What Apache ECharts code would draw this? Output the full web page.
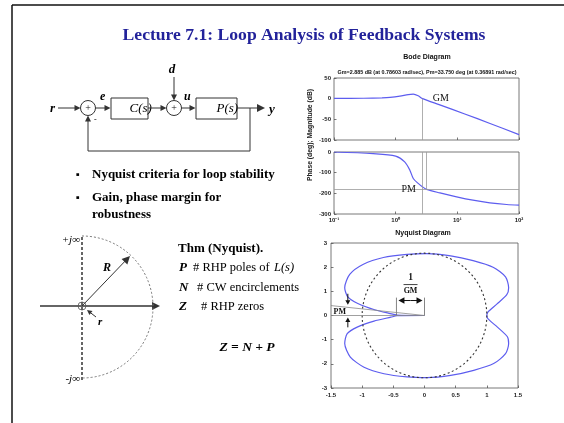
<!DOCTYPE html>
<html>
<head>
<meta charset="utf-8">
<script src="https://cdn.jsdelivr.net/npm/echarts@6/dist/echarts.min.js"></script>
<style>
html,body{margin:0;padding:0;background:#fff;}
#main{width:564px;height:423px;}
</style>
</head>
<body>
<div id="main"></div>
<script>
// ---- Bode magnitude (frequency in rad/s, magnitude in dB) ----
const magFreq = [0.1, 0.3, 0.6, 0.81, 1.17, 1.6, 1.93, 2.32, 2.74, 5.2, 13.2, 33.9, 100];
const magDb   = [0.5, 1, 2, 3, 6, 10, 11, 7, 0, -15, -37, -60, -87];

// ---- Bode phase (frequency in rad/s, phase in degrees) ----
const phaseFreq = [0.1, 0.43, 1.0, 1.4, 1.7, 1.93, 2.32, 2.74, 3.18, 5.22, 9.75, 17.9, 33.7, 63, 100];
const phaseDeg  = [0, -8, -20, -48, -88, -128, -152, -169, -181, -198, -217, -233, -246, -254, -257];

// ---- Nyquist curve (real, imaginary) ----
const nyqRe = [0, -0.44, -0.55, -0.8, -1.07, -1.23, -1.28, -1.2, -0.98, -0.66, -0.28, 0.04, 0.42, 0.78, 1.1, 1.3, 1.35, 1.32, 1.16, 1.02, 1.0,
               1.02, 1.17, 1.33, 1.35, 1.3, 1.11, 0.79, 0.42, 0.04, -0.28, -0.65, -0.97, -1.19, -1.28, -1.24, -1.08, -0.81, -0.54, -0.44, 0];
const nyqIm = [0, 0.02, 0.08, 0.24, 0.5, 0.77, 1.15, 1.7, 2.12, 2.4, 2.53, 2.56, 2.47, 2.27, 2.0, 1.6, 1.15, 0.86, 0.47, 0.15, 0,
               -0.14, -0.48, -0.88, -1.16, -1.58, -1.99, -2.27, -2.48, -2.57, -2.54, -2.41, -2.14, -1.72, -1.16, -0.75, -0.48, -0.23, -0.07, -0.01, 0];

// ---- margins ----
const gainCrossFreq = 2.74;   // |L| = 0 dB
const phaseCrossFreq = 3.18;  // angle L = -180 deg
const phaseCrossLevel = -180;
const invGm = -0.45;          // real-axis crossing, -1/GM

// ---- tick labels ----
const freqTickLabels = ['10\u207B\u00B9', '10\u2070', '10\u00B9', '10\u00B2'];

const BLUE = '#5d5def';
const SERIF = '"Liberation Serif","Times New Roman",serif';
const SANS = '"Liberation Sans",Arial,sans-serif';

const tickLabel = {fontSize: 6, fontWeight: 'bold', color: '#222', fontFamily: SANS};
const tickStyle = {inside: true, length: 2.5, lineStyle: {color: '#555', width: 0.8}};
const noLine = {show: false, onZero: false};
const gridBox = {show: true, borderColor: '#555', borderWidth: 0.8, backgroundColor: '#fff'};
const guide = {color: '#9a9a9a', width: 0.8, type: 'solid'};

const option = {
  animation: false,
  backgroundColor: '#fff',
  grid: [
    Object.assign({left: 334, top: 78, width: 185, height: 62}, gridBox),
    Object.assign({left: 334, top: 152, width: 185, height: 62}, gridBox),
    Object.assign({left: 331, top: 243, width: 187, height: 145}, gridBox)
  ],
  xAxis: [
    {type: 'log', logBase: 10, gridIndex: 0, min: 0.1, max: 100, axisLine: noLine, axisTick: tickStyle,
     axisLabel: {show: false}, splitLine: {show: false}},
    {type: 'log', logBase: 10, gridIndex: 1, min: 0.1, max: 100, axisLine: noLine, axisTick: tickStyle,
     axisLabel: Object.assign({margin: 3, formatter: v => freqTickLabels[Math.round(Math.log10(v)) + 1]}, tickLabel),
     splitLine: {show: false}},
    {type: 'value', gridIndex: 2, min: -1.5, max: 1.5, interval: 0.5, axisLine: noLine, axisTick: tickStyle,
     axisLabel: Object.assign({margin: 4}, tickLabel), splitLine: {show: false}}
  ],
  yAxis: [
    {type: 'value', gridIndex: 0, min: -100, max: 50, interval: 50, axisLine: noLine, axisTick: tickStyle,
     axisLabel: Object.assign({margin: 3}, tickLabel), splitLine: {show: false}},
    {type: 'value', gridIndex: 1, min: -300, max: 0, interval: 100, axisLine: noLine, axisTick: tickStyle,
     axisLabel: Object.assign({margin: 3}, tickLabel), splitLine: {show: false}},
    {type: 'value', gridIndex: 2, min: -3, max: 3, interval: 1, axisLine: noLine, axisTick: tickStyle,
     axisLabel: Object.assign({margin: 4}, tickLabel), splitLine: {show: false}}
  ],
  series: [
    {
      type: 'line', xAxisIndex: 0, yAxisIndex: 0, symbol: 'none', smooth: 0.3,
      data: magFreq.map((f, i) => [f, magDb[i]]),
      lineStyle: {color: BLUE, width: 1.2},
      markLine: {silent: true, symbol: ['none', 'none'], label: {show: false}, lineStyle: guide,
        data: [[{coord: [gainCrossFreq, 0]}, {coord: [gainCrossFreq, -100]}]]}
    },
    {
      type: 'line', xAxisIndex: 1, yAxisIndex: 1, symbol: 'none', smooth: 0.3,
      data: phaseFreq.map((f, i) => [f, phaseDeg[i]]),
      lineStyle: {color: BLUE, width: 1.2},
      markLine: {silent: true, symbol: ['none', 'none'], label: {show: false}, lineStyle: guide,
        data: [
          {yAxis: phaseCrossLevel},
          [{coord: [gainCrossFreq, 0]}, {coord: [gainCrossFreq, -300]}],
          [{coord: [phaseCrossFreq, 0]}, {coord: [phaseCrossFreq, phaseCrossLevel]}]
        ]}
    },
    {
      type: 'line', xAxisIndex: 2, yAxisIndex: 2, symbol: 'none', smooth: 0.25,
      data: nyqRe.map((r, i) => [r, nyqIm[i]]),
      lineStyle: {color: BLUE, width: 1.2}, z: 3
    }
  ]
};

const chart = echarts.init(document.getElementById('main'), null, {renderer: 'canvas'});
chart.setOption(option);

// ---- drawing helpers ----
function T(x, y, text, font, fill, align, rot) {
  return {type: 'text', silent: true, x: x, y: y, rotation: rot || 0, z: 10,
    style: {text: text, font: font, fill: fill || '#000', align: align || 'left', verticalAlign: 'middle',
            textAlign: align || 'left', textVerticalAlign: 'middle'}};
}
function L(x1, y1, x2, y2, color, lw, dash) {
  return {type: 'line', silent: true, z: 10, shape: {x1, y1, x2, y2},
    style: {stroke: color || '#222', lineWidth: lw || 1, lineDash: dash || null}};
}
function A(x1, y1, x2, y2, color, lw, hl, hw) {
  color = color || '#222'; hl = hl || 6; hw = hw || 3;
  const dx = x2 - x1, dy = y2 - y1, len = Math.hypot(dx, dy), ux = dx / len, uy = dy / len;
  const bx = x2 - ux * hl, by = y2 - uy * hl;
  return [L(x1, y1, bx + ux, by + uy, color, lw),
    {type: 'polygon', silent: true, z: 10, shape: {points: [[x2, y2], [bx - uy * hw, by + ux * hw], [bx + uy * hw, by - ux * hw]]},
     style: {fill: color}}];
}
function C(cx, cy, r, color, lw, dash) {
  return {type: 'circle', silent: true, z: 10, shape: {cx, cy, r},
    style: {fill: 'none', stroke: color || '#222', lineWidth: lw || 1, lineDash: dash || null}};
}
function R(x, y, w, h, color) {
  return {type: 'rect', silent: true, z: 10, shape: {x, y, width: w, height: h},
    style: {fill: 'none', stroke: color || '#333', lineWidth: 1}};
}
const ser = (sz, st) => (st || '') + ' ' + sz + 'px ' + SERIF;

const g = [];
// slide frame
g.push(L(12, 5, 564, 5, '#111', 1.5), L(12, 5, 12, 423, '#111', 1.5));
// title
g.push(T(304, 35, 'Lecture 7.1: Loop Analysis of Feedback Systems', ser(17.6, 'bold'), '#22229a', 'center'));

// block diagram
const dk = '#333';
g.push(T(50, 109, 'r', ser(13, 'italic bold')));
g.push(...A(58, 108, 80.5, 108, dk, 1, 6, 3));
g.push(C(88, 108, 7.5, dk), T(88, 108, '+', ser(10), '#111', 'center'));
g.push(T(100, 97, 'e', ser(12, 'italic bold')));
g.push(...A(95.5, 108, 110.5, 108, dk, 1, 6, 3));
g.push(R(111, 98, 37, 21, dk), T(129.5, 108.5, 'C(s)', ser(13, 'italic')));
g.push(...A(148, 108, 166.5, 108, dk, 1, 6, 3));
g.push(C(174, 108, 7.5, dk), T(174, 108, '+', ser(10), '#111', 'center'));
g.push(T(172, 70, 'd', ser(13, 'italic bold'), '#000', 'center'));
g.push(...A(174, 77, 174, 100.5, dk, 1, 6, 3));
g.push(T(184, 97, 'u', ser(12, 'italic bold')));
g.push(...A(181.5, 108, 195.5, 108, dk, 1, 6, 3));
g.push(R(196, 98, 41, 21, dk), T(216.5, 108.5, 'P(s)', ser(13, 'italic')));
g.push(...A(237, 108, 265, 108, dk, 1, 8, 4));
g.push(T(269, 110, 'y', ser(13, 'italic bold')));
g.push({type: 'polyline', silent: true, z: 10, shape: {points: [[250, 108], [250, 151], [88, 151], [88, 124]]},
        style: {stroke: dk, lineWidth: 1, fill: null}});
g.push(...A(88, 124, 88, 115.5, dk, 1, 6, 3));
g.push(T(94, 120, '-', ser(8)));

// bullets
g.push(T(76, 175, '\u25AA', ser(11)), T(92, 175, 'Nyquist criteria for loop stability', ser(13, 'bold')));
g.push(T(76, 198, '\u25AA', ser(11)), T(92, 198, 'Gain, phase margin for', ser(13, 'bold')));
g.push(T(92, 215, 'robustness', ser(13, 'bold')));

// Nyquist contour sketch
g.push(L(82, 237, 82, 382, '#666', 2, [3, 2]));
g.push(...A(40, 306, 160, 306, '#333', 1.3, 8, 4));
g.push({type: 'arc', silent: true, z: 10, shape: {cx: 82, cy: 307, r: 71, startAngle: -Math.PI / 2, endAngle: Math.PI / 2},
        style: {stroke: '#777', lineWidth: 1, lineDash: [2, 2], fill: null}});
g.push(...A(82, 306, 130, 256, '#333', 1, 8, 4));
g.push(T(103, 268, 'R', ser(12, 'italic bold')));
g.push(C(82, 306, 4, '#555', 0.8));
g.push(...A(96, 317, 87, 310, '#333', 1, 5, 2.5));
g.push(T(98, 322, 'r', ser(11, 'italic bold')));
g.push(T(80, 240, '+j\u221E', ser(11, 'italic'), '#000', 'right'));
g.push(T(80, 379, '-j\u221E', ser(11, 'italic'), '#000', 'right'));

// theorem text
g.push(T(178, 249, 'Thm (Nyquist).', ser(13, 'bold')));
g.push(T(179, 268, 'P', ser(13, 'italic bold')), T(193, 268, '# RHP poles of', ser(12.5)), T(274, 268, 'L(s)', ser(12.5, 'italic')));
g.push(T(179, 288, 'N', ser(13, 'italic bold')), T(197, 288, '# CW encirclements', ser(12.5)));
g.push(T(179, 307, 'Z', ser(13, 'italic bold')), T(201, 307, '# RHP zeros', ser(12.5)));
g.push(T(247, 348, 'Z = N + P', ser(13.5, 'italic bold'), '#000', 'center'));

// Bode labels
g.push(T(427, 57, 'Bode Diagram', 'bold 7px ' + SANS, '#111', 'center'));
g.push(T(427, 73, 'Gm=2.885 dB (at 0.78603 rad/sec), Pm=33.750 deg (at 0.36891 rad/sec)', 'bold 5.4px ' + SANS, '#111', 'center'));
g.push(T(310, 135, 'Phase (deg); Magnitude (dB)', 'bold 6.8px ' + SANS, '#222', 'center', Math.PI / 2));
const gmPx = chart.convertToPixel({xAxisIndex: 0, yAxisIndex: 0}, [4.0, 0]);
g.push(T(gmPx[0], gmPx[1], 'GM', ser(10), '#111'));
const pmPx = chart.convertToPixel({xAxisIndex: 1, yAxisIndex: 1}, [2.13, phaseCrossLevel]);
g.push(T(pmPx[0], pmPx[1], 'PM', ser(10), '#111', 'right'));
g.push(T(423, 233, 'Nyquist Diagram', 'bold 7px ' + SANS, '#111', 'center'));

// Nyquist annotations (data coordinates)
const N = (re, im) => chart.convertToPixel({xAxisIndex: 2, yAxisIndex: 2}, [re, im]);
const o = N(0, 0), one = N(1, 0);
g.push(C(o[0], o[1], one[0] - o[0], '#333', 1.1, [2, 2.5]));
// 1/GM bracket
const b0 = N(invGm, 0), b1 = N(invGm, 0.74), c1 = N(0, 0.74), ar = N(0, 0.62);
g.push(L(b0[0], b0[1], b1[0], b1[1], '#666', 0.8), L(o[0], o[1], c1[0], c1[1], '#666', 0.8));
const mid = (b0[0] + o[0]) / 2;
g.push(...A(mid, ar[1], b0[0] + 2, ar[1], '#111', 1, 6, 3.2));
g.push(...A(mid, ar[1], o[0] - 2, ar[1], '#111', 1, 6, 3.2));
const f1 = N(-0.224, 1.56), fb = N(-0.224, 1.28), f2 = N(-0.224, 1.03);
g.push(T(f1[0], f1[1], '1', ser(9.5, 'bold'), '#111', 'center'));
g.push(L(fb[0] - 7, fb[1], fb[0] + 7, fb[1], '#111', 0.8));
g.push(T(f2[0], f2[1], 'GM', ser(8, 'bold'), '#111', 'center'));
// phase margin wedge
const w0 = N(-1.5, 0.41), h0 = N(-1.5, 0);
g.push(L(w0[0], w0[1], o[0], o[1], '#888', 0.8), L(h0[0], h0[1], o[0], o[1], '#888', 0.8));
const d1 = N(-1.23, 0.9), d2 = N(-1.23, 0.45), u1 = N(-1.23, -0.49), u2 = N(-1.23, -0.08);
g.push(...A(d1[0], d1[1], d2[0], d2[1], '#111', 1, 4.5, 2.5));
g.push(...A(u1[0], u1[1], u2[0], u2[1], '#111', 1, 4.5, 2.5));
const pmL = N(-1.46, 0.16);
g.push(T(pmL[0], pmL[1], 'PM', ser(8, 'bold'), '#111'));

chart.setOption({graphic: {elements: g}});
</script>
</body>
</html>
